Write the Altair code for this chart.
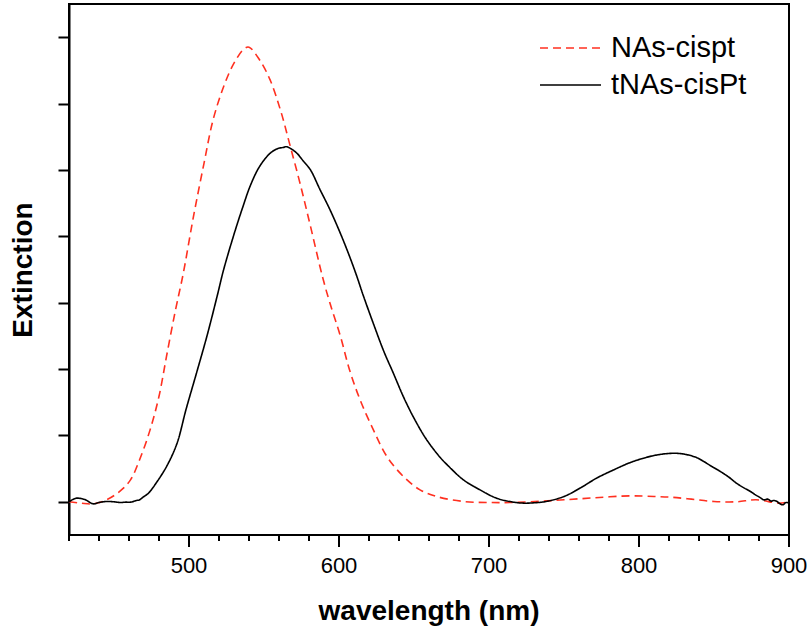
import altair as alt
import pandas as pd

# NAs-cispt (red dashed)
wl_red = [420, 428, 436, 445, 454, 461, 467, 474, 480, 485, 491, 496, 503, 510, 516, 523,
          530, 537, 540, 547, 554, 561, 567, 574, 581, 589, 594, 601, 607, 614, 623, 632,
          643, 654, 665, 683, 700, 716, 735, 750, 770, 794, 810, 821, 835, 850, 865, 878,
          894, 900]
ext_red = [0.0, -0.02, -0.03, 0.03, 0.16, 0.33, 0.63, 1.08, 1.59, 2.19, 2.89, 3.42, 4.30, 5.10,
           5.75, 6.25, 6.61, 6.83, 6.85, 6.66, 6.36, 5.90, 5.40, 4.80, 4.15, 3.39, 2.99, 2.49,
           1.99, 1.54, 1.08, 0.68, 0.38, 0.18, 0.08, 0.005, -0.01, -0.01, 0.01, 0.03, 0.06,
           0.09, 0.08, 0.07, 0.04, 0.005, 0.0, 0.03, -0.02, 0.005]

# tNAs-cisPt (black solid)
wl_blk = [420, 423, 425, 428, 431, 436, 440, 445, 450, 454, 458, 461, 465, 467, 470, 473,
          478, 485, 492, 498, 505, 512, 519, 523, 530, 536, 541, 547, 554, 559, 563, 565,
          568, 572, 576, 581, 587, 594, 601, 607, 612, 616, 623, 630, 636, 643, 650, 658,
          667, 672, 683, 694, 705, 715, 723, 730, 738, 750, 761, 772, 783, 794, 805, 813,
          821, 826, 832, 838, 843, 848, 854, 860, 865, 870, 874, 878, 881, 883, 886, 888,
          890, 892, 894, 896, 898, 900]
ext_blk = [0.0, 0.04, 0.055, 0.05, 0.03, -0.03, -0.01, 0.005, 0.0, -0.01, -0.005, -0.005,
           0.02, 0.03, 0.08, 0.13, 0.28, 0.53, 0.88, 1.39, 1.94, 2.50, 3.12, 3.49, 4.03, 4.45,
           4.77, 5.05, 5.25, 5.32, 5.34, 5.35, 5.32, 5.25, 5.14, 5.00, 4.72, 4.40, 4.04, 3.70,
           3.39, 3.12, 2.68, 2.26, 1.95, 1.58, 1.26, 0.95, 0.68, 0.56, 0.33, 0.18, 0.055, 0.0,
           -0.02, -0.015, 0.005, 0.08, 0.21, 0.36, 0.48, 0.59, 0.67, 0.71, 0.73, 0.73, 0.71,
           0.67, 0.61, 0.54, 0.46, 0.37, 0.28, 0.21, 0.16, 0.10, 0.06, 0.03, 0.04, 0.01, 0.02,
           0.005, -0.03, -0.045, -0.01, -0.02]

series_names = ["NAs-cispt", "tNAs-cisPt"]
series_colors = ["#ff3020", "#000000"]
series_dash = [[8, 5], [1, 0]]

x_major_ticks = [500, 600, 700, 800, 900]
x_tick_labels = ["500", "600", "700", "800", "900"]
x_minor_ticks = list(range(420, 901, 20))
y_tick_values = [0, 1, 2, 3, 4, 5, 6, 7]
x_title = ["wavelength (nm)"]
y_title = "Extinction"

df = pd.concat([
    pd.DataFrame({"wavelength": wl_red, "ext": ext_red, "series": series_names[0]}),
    pd.DataFrame({"wavelength": wl_blk, "ext": ext_blk, "series": series_names[1]}),
])

FONT = "Liberation Sans"
PLOT_W, PLOT_H = 720, 531
x_scale = alt.Scale(domain=[420, 900], nice=False, zero=False)

lines = alt.Chart(df).mark_line(strokeWidth=1.6, interpolate="catmull-rom").encode(
    x=alt.X("wavelength:Q", scale=x_scale, axis=None),
    y=alt.Y("ext:Q",
            scale=alt.Scale(domain=[-0.5, 7.5], nice=False, zero=False),
            axis=alt.Axis(
                title=y_title,
                values=y_tick_values,
                labels=False,
                tickSize=11, grid=False,
                titleFontSize=28, titleFont=FONT, titleFontWeight="bold", titleColor="black",
                titlePadding=20,
                domainColor="black", domainWidth=2, tickColor="black", tickWidth=2,
            )),
    color=alt.Color("series:N", title=None,
                    scale=alt.Scale(domain=series_names, range=series_colors)),
    strokeDash=alt.StrokeDash("series:N", title=None,
                              scale=alt.Scale(domain=series_names, range=series_dash)),
)

# bottom axis: outward ticks (minor every 20 nm, major every 100 nm), labels and title
minor_ticks = alt.Chart(pd.DataFrame({"wavelength": x_minor_ticks})).mark_rule(
    color="black", strokeWidth=2
).encode(
    x=alt.X("wavelength:Q", scale=x_scale, axis=None),
    y=alt.value(PLOT_H),
    y2=alt.value(PLOT_H + 6),
)
major_ticks = alt.Chart(pd.DataFrame({"wavelength": x_major_ticks})).mark_rule(
    color="black", strokeWidth=2
).encode(
    x=alt.X("wavelength:Q", scale=x_scale, axis=None),
    y=alt.value(PLOT_H),
    y2=alt.value(PLOT_H + 12),
)
tick_labels = alt.Chart(pd.DataFrame({"wavelength": x_major_ticks, "label": x_tick_labels})).mark_text(
    font=FONT, fontSize=22, color="black", align="center", baseline="alphabetic"
).encode(
    x=alt.X("wavelength:Q", scale=x_scale, axis=None),
    y=alt.value(PLOT_H + 38),
    text="label:N",
)
x_title_mark = alt.Chart(pd.DataFrame({"title": x_title})).mark_text(
    font=FONT, fontSize=28, fontWeight="bold", color="black", align="center", baseline="alphabetic"
).encode(
    x=alt.value(PLOT_W / 2),
    y=alt.value(PLOT_H + 85),
    text="title:N",
)

chart = alt.layer(lines, minor_ticks, major_ticks, tick_labels, x_title_mark).properties(
    width=PLOT_W, height=PLOT_H,
    autosize=alt.AutoSizeParams(type="none"),
    padding={"left": 69, "top": 4, "right": 22, "bottom": 97},
).configure_view(
    stroke="black", strokeWidth=2
).configure_legend(
    orient="none", legendX=470, legendY=30,
    symbolType="stroke", symbolSize=3721, symbolStrokeWidth=1.6,
    labelFontSize=29, labelFont=FONT, labelColor="black", labelOffset=9,
    clipHeight=28, rowPadding=8, padding=0,
)

chart.save("out.html", embed_options={"renderer": "svg", "actions": False})
